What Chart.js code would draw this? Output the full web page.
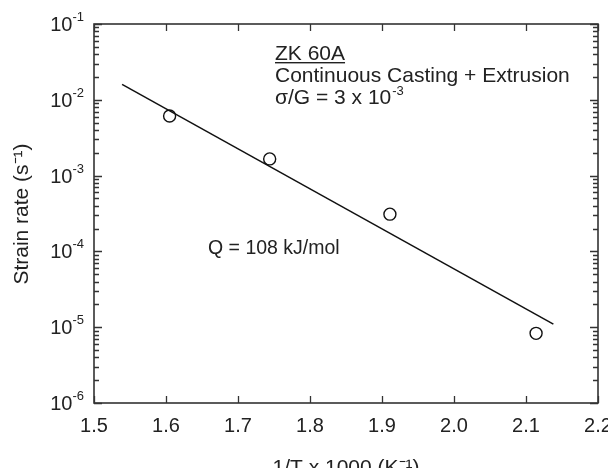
<!DOCTYPE html>
<html>
<head>
<meta charset="utf-8">
<script src="https://cdn.jsdelivr.net/npm/chart.js@4.4.0/dist/chart.umd.min.js"></script>
<style>
  html, body { margin: 0; padding: 0; background: #fff; }
  #wrap { width: 608px; height: 468px; }
</style>
</head>
<body>
<div id="wrap"><canvas id="arrChart"></canvas></div>
<script>
// measured points (1/T x 1000, strain rate)
const invT = [1.605, 1.744, 1.911, 2.114];
const strainRate = [6.1e-3, 1.66e-3, 3.1e-4, 8.3e-6];

// Arrhenius fit line end points
const fitX = [1.539, 2.138];
const fitY = [1.6e-2, 1.1e-5];

const xTicks = [1.5, 1.6, 1.7, 1.8, 1.9, 2.0, 2.1, 2.2];
const decades = [1e-6, 1e-5, 1e-4, 1e-3, 1e-2, 1e-1];
const exponents = ['-6', '-5', '-4', '-3', '-2', '-1'];

const FONT = 'Liberation Sans, Arial, sans-serif';

// inward tick marks on all four sides, y labels, titles, notes
const framePlugin = {
    id: 'frame',
    afterDraw(chart) {
        const ctx = chart.ctx;
        const a = chart.chartArea;
        const xs = chart.scales.x;
        const ys = chart.scales.y;
        ctx.save();
        ctx.strokeStyle = '#333';
        ctx.lineWidth = 1.6;
        ctx.strokeRect(a.left, a.top, a.right - a.left, a.bottom - a.top);

        ctx.lineWidth = 1.3;
        ctx.beginPath();
        xTicks.forEach(v => {
            const px = Math.round(xs.getPixelForValue(v)) + 0.5;
            ctx.moveTo(px, a.bottom); ctx.lineTo(px, a.bottom - 7);
            ctx.moveTo(px, a.top); ctx.lineTo(px, a.top + 7);
        });
        decades.forEach((d, i) => {
            const py = Math.round(ys.getPixelForValue(d)) + 0.5;
            ctx.moveTo(a.left, py); ctx.lineTo(a.left + 8, py);
            ctx.moveTo(a.right, py); ctx.lineTo(a.right - 8, py);
            if (i < decades.length - 1) {
                for (let m = 2; m <= 9; m++) {
                    const pm = Math.round(ys.getPixelForValue(d * m)) + 0.5;
                    ctx.moveTo(a.left, pm); ctx.lineTo(a.left + 5, pm);
                    ctx.moveTo(a.right, pm); ctx.lineTo(a.right - 5, pm);
                }
            }
        });
        ctx.stroke();

        // y tick labels 10^n
        ctx.fillStyle = '#222';
        decades.forEach((d, i) => {
            const py = ys.getPixelForValue(d);
            ctx.font = '13px ' + FONT;
            ctx.textAlign = 'right';
            const ew = ctx.measureText(exponents[i]).width;
            ctx.fillText(exponents[i], 84, py - 3);
            ctx.font = '20px ' + FONT;
            ctx.fillText('10', 84 - ew, py + 7);
        });

        // axis titles
        ctx.font = '21px ' + FONT;
        ctx.textAlign = 'center';
        ctx.textBaseline = 'alphabetic';
        ctx.fillText('1/T x 1000 (K⁻¹)', 346, 474);
        ctx.save();
        ctx.translate(28, 214);
        ctx.rotate(-Math.PI / 2);
        ctx.fillText('Strain rate (s⁻¹)', 0, 0);
        ctx.restore();

        // notes
        ctx.textAlign = 'left';
        ctx.fillText('ZK 60A', 275, 60);
        const w = ctx.measureText('ZK 60A').width;
        ctx.fillRect(275, 62, w, 1.4);
        ctx.fillText('Continuous Casting + Extrusion', 275, 82);
        ctx.fillText('σ/G = 3 x 10', 275, 104);
        const sw = ctx.measureText('σ/G = 3 x 10').width;
        ctx.font = '13px ' + FONT;
        ctx.fillText('-3', 275 + sw + 1, 95);
        ctx.font = '19.5px ' + FONT;
        ctx.fillText('Q = 108 kJ/mol', 208, 254);
        ctx.restore();
    }
};

new Chart(document.getElementById('arrChart'), {
    type: 'scatter',
    data: {
        datasets: [{
            label: 'data',
            data: invT.map((x, i) => ({ x: x, y: strainRate[i] })),
            pointStyle: 'circle',
            pointRadius: 6,
            pointBorderWidth: 1.4,
            pointBorderColor: '#111',
            pointBackgroundColor: 'rgba(0,0,0,0)',
            showLine: false
        }, {
            label: 'fit',
            data: fitX.map((x, i) => ({ x: x, y: fitY[i] })),
            showLine: true,
            borderColor: '#111',
            borderWidth: 1.5,
            pointRadius: 0
        }]
    },
    options: {
        responsive: true,
        maintainAspectRatio: false,
        animation: false,
        layout: { padding: { top: 24, right: 10, left: 0, bottom: 0 } },
        plugins: { legend: { display: false }, tooltip: { enabled: false } },
        scales: {
            x: {
                type: 'linear',
                min: 1.5,
                max: 2.2,
                afterBuildTicks: s => { s.ticks = xTicks.map(v => ({ value: v })); },
                afterFit: s => { s.height = 65; s.paddingLeft = 0; s.paddingRight = 0; },
                grid: { display: false, drawTicks: false },
                border: { display: false },
                ticks: {
                    padding: 11,
                    color: '#222',
                    font: { family: FONT, size: 20 },
                    callback: v => v.toFixed(1)
                }
            },
            y: {
                type: 'logarithmic',
                min: 1e-6,
                max: 1e-1,
                afterBuildTicks: s => { s.ticks = decades.map(v => ({ value: v })); },
                afterFit: s => { s.width = 94; s.paddingTop = 0; s.paddingBottom = 0; },
                grid: { display: false, drawTicks: false },
                border: { display: false },
                ticks: { display: false }
            }
        }
    },
    plugins: [framePlugin]
});
</script>
</body>
</html>
